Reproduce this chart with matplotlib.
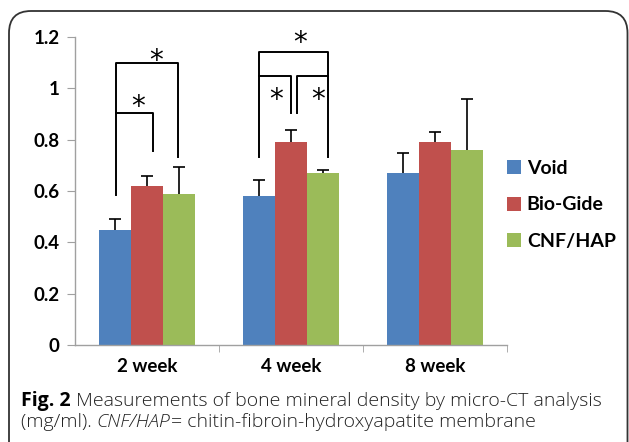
import matplotlib.pyplot as plt
import numpy as np
from matplotlib.patches import FancyBboxPatch

# Data
weeks = ['2 week', '4 week', '8 week']
groups = ['Void', 'Bio-Gide', 'CNF/HAP']
void_mean = [0.45, 0.58, 0.67]
biogide_mean = [0.62, 0.79, 0.79]
cnf_mean = [0.59, 0.67, 0.76]
void_err = [0.04, 0.063, 0.077]
biogide_err = [0.04, 0.046, 0.04]
cnf_err = [0.103, 0.01, 0.197]
y_ticks = [0, 0.2, 0.4, 0.6, 0.8, 1.0, 1.2]
y_tick_labels = ['0', '0.2', '0.4', '0.6', '0.8', '1', '1.2']

colors = ['#4F81BD', '#C0504D', '#9BBB59']
means = [void_mean, biogide_mean, cnf_mean]
errs = [void_err, biogide_err, cnf_err]

fig = plt.figure(figsize=(6.29, 4.42), dpi=100)

# Rounded frame around the figure panel
frame = FancyBboxPatch((9 / 629, -0.2), 618.5 / 629, (442 - 11) / 442 + 0.2,
                       boxstyle='round,pad=0,rounding_size=0.035',
                       transform=fig.transFigure, fill=False,
                       edgecolor='#333333', linewidth=1.3, mutation_aspect=629 / 442)
fig.patches.append(frame)

ax = fig.add_axes([75 / 629, 1 - 345 / 442, 432 / 629, 308 / 442])

x = np.arange(len(weeks))
width = 0.222
for i in range(3):
    pos = x + (i - 1) * width
    m = np.array(means[i])
    top = m + np.array(errs[i])
    ax.bar(pos, m, width, color=colors[i], label=groups[i], zorder=2)
    # upper error bar only, cap at the top
    ax.vlines(pos, m, top, color='black', linewidth=1.2, zorder=3)
    ax.plot(pos, top, linestyle='none', marker='_', markersize=8,
            markeredgewidth=1.2, color='black', zorder=3)

ax.set_xlim(-0.5, 2.5)
ax.set_ylim(0, 1.2)
ax.set_yticks(y_ticks)
ax.set_yticklabels(y_tick_labels)
ax.set_xticks(x)
ax.set_xticklabels(weeks)
ax.set_xticks([0.5, 1.5, 2.5], minor=True)
ax.tick_params(axis='x', which='major', length=0, pad=9)
ax.tick_params(axis='x', which='minor', length=5, color='#a0a0a0')
ax.tick_params(axis='y', length=6, color='#a0a0a0', pad=5)
for lab in ax.get_xticklabels() + ax.get_yticklabels():
    lab.set_fontfamily('Lato')
    lab.set_fontweight('bold')
    lab.set_fontsize(13.5)
for s in ['top', 'right']:
    ax.spines[s].set_visible(False)
for s in ['left', 'bottom']:
    ax.spines[s].set_color('#a0a0a0')
    ax.spines[s].set_linewidth(1.0)

# Significance brackets
lw = 1.4
def bracket(xs, ys):
    ax.plot(xs, ys, color='black', linewidth=lw, clip_on=False, zorder=4)

bracket([-0.217, -0.217, 0.217, 0.217], [0.584, 1.097, 1.097, 0.731])
bracket([-0.217, 0.044, 0.044], [0.903, 0.903, 0.756])
bracket([0.778, 0.778, 1.259, 1.259], [0.734, 1.143, 1.143, 0.734])
bracket([0.778, 0.998, 0.998], [1.048, 1.048, 0.903])
bracket([1.259, 1.04, 1.04], [1.048, 1.048, 0.903])

stars = [(0.06, 1.143), (-0.065, 0.963), (1.0625, 1.212), (0.894, 0.991), (1.19, 0.991)]
for sx, sy in stars:
    ax.text(sx, sy - 0.035, '*', fontsize=20, family='DejaVu Sans',
            ha='center', va='center', clip_on=False)

# Legend
leg = ax.legend(loc='center left', bbox_to_anchor=((507 - 75) / 432, (345 - 205) / 308),
                frameon=False, handlelength=0.72, handleheight=0.72,
                handletextpad=0.3, labelspacing=1.0, borderpad=0, borderaxespad=0,
                prop={'family': 'Lato', 'weight': 'bold', 'size': 14})

# Caption, pieces placed one after another
def caption_line(y_px, pieces):
    renderer = fig.canvas.get_renderer()
    x0 = 21 / 629
    for txt, kw in pieces:
        style = {'color': '#222222'}
        style.update(kw)
        t = fig.text(x0, 1 - y_px / 442, txt, fontsize=14, family='Open Sans',
                     va='center', ha='left', **style)
        bb = t.get_window_extent(renderer=renderer)
        x0 = bb.x1 / 629

caption_line(401, [('Fig. 2 ', {'fontweight': 'bold', 'color': 'black'}),
                   ('Measurements of bone mineral density by micro-CT analysis',
                    {'fontweight': 'light'})])
caption_line(422, [('(mg/ml). ', {'fontweight': 'light'}),
                   ('CNF/HAP', {'style': 'italic', 'fontweight': 'light'}),
                   ('= chitin-fibroin-hydroxyapatite membrane', {'fontweight': 'light'})])

fig.savefig('out.png', dpi=100)
